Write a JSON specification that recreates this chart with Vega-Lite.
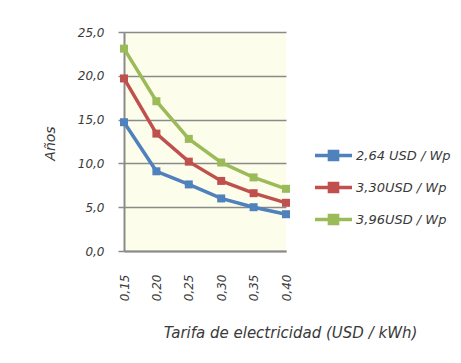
{
  "$schema": "https://vega.github.io/schema/vega-lite/v6.json",
  "autosize": "none",
  "width": 162,
  "height": 219,
  "padding": {"left": 124, "top": 32, "right": 175, "bottom": 112},
  "background": "white",
  "data": {
    "values": [
      {"tarifa": "0,15", "serie": "2,64 USD / Wp", "anos": 14.7},
      {"tarifa": "0,20", "serie": "2,64 USD / Wp", "anos": 9.1},
      {"tarifa": "0,25", "serie": "2,64 USD / Wp", "anos": 7.6},
      {"tarifa": "0,30", "serie": "2,64 USD / Wp", "anos": 6.0},
      {"tarifa": "0,35", "serie": "2,64 USD / Wp", "anos": 5.0},
      {"tarifa": "0,40", "serie": "2,64 USD / Wp", "anos": 4.2},
      {"tarifa": "0,15", "serie": "3,30USD / Wp", "anos": 19.7},
      {"tarifa": "0,20", "serie": "3,30USD / Wp", "anos": 13.4},
      {"tarifa": "0,25", "serie": "3,30USD / Wp", "anos": 10.2},
      {"tarifa": "0,30", "serie": "3,30USD / Wp", "anos": 8.0},
      {"tarifa": "0,35", "serie": "3,30USD / Wp", "anos": 6.6},
      {"tarifa": "0,40", "serie": "3,30USD / Wp", "anos": 5.5},
      {"tarifa": "0,15", "serie": "3,96USD / Wp", "anos": 23.1},
      {"tarifa": "0,20", "serie": "3,96USD / Wp", "anos": 17.1},
      {"tarifa": "0,25", "serie": "3,96USD / Wp", "anos": 12.8},
      {"tarifa": "0,30", "serie": "3,96USD / Wp", "anos": 10.1},
      {"tarifa": "0,35", "serie": "3,96USD / Wp", "anos": 8.4},
      {"tarifa": "0,40", "serie": "3,96USD / Wp", "anos": 7.1}
    ]
  },
  "mark": {
    "type": "line",
    "strokeWidth": 3.5,
    "point": {"shape": "square", "size": 64, "filled": true, "opacity": 1}
  },
  "encoding": {
    "x": {
      "field": "tarifa",
      "type": "ordinal",
      "scale": {"type": "point", "padding": 0},
      "axis": {
        "title": "Tarifa de electricidad (USD / kWh)",
        "labelAngle": -90,
        "labelAlign": "right",
        "labelBaseline": "middle",
        "labelPadding": 23,
        "ticks": false,
        "domainColor": "#8a8a8a",
        "domainWidth": 2,
        "titleX": 166,
        "titlePadding": 25,
        "titleFontSize": 15
      }
    },
    "y": {
      "field": "anos",
      "type": "quantitative",
      "scale": {"domain": [0, 25], "nice": false},
      "axis": {
        "title": "Años",
        "values": [0, 5, 10, 15, 20, 25],
        "labelExpr": "replace(format(datum.value, '.1f'), '.', ',')",
        "grid": true,
        "gridColor": "#8a8a8a",
        "gridWidth": 1.5,
        "tickColor": "#8a8a8a",
        "tickSize": 6,
        "tickWidth": 1.5,
        "labelPadding": 14,
        "domainColor": "#8a8a8a",
        "domainWidth": 2,
        "titleX": -74,
        "titleY": 111,
        "titleAngle": -90,
        "titleBaseline": "middle",
        "titleAlign": "center",
        "titleFontSize": 14
      }
    },
    "color": {
      "field": "serie",
      "type": "nominal",
      "scale": {
        "domain": ["2,64 USD / Wp", "3,30USD / Wp", "3,96USD / Wp"],
        "range": ["#4f81bd", "#c0504d", "#9bbb59"]
      },
      "legend": {
        "title": null,
        "orient": "none",
        "legendX": 189,
        "legendY": 103,
        "padding": 0,
        "symbolType": "M-1,0H1M-0.22,-0.22H0.22V0.22H-0.22Z",
        "symbolSize": 1369,
        "symbolStrokeWidth": 3.5,
        "labelOffset": 2,
        "labelFontSize": 13,
        "rowPadding": 0,
        "encode": {
          "symbols": {
            "update": {
              "fill": {"scale": "color", "field": "value"},
              "stroke": {"scale": "color", "field": "value"},
              "opacity": {"value": 1}
            }
          }
        }
      }
    }
  },
  "config": {
    "view": {"fill": "#fdfdeb", "stroke": null},
    "font": "DejaVu Sans",
    "axis": {
      "labelFont": "DejaVu Sans",
      "labelFontStyle": "italic",
      "labelFontSize": 12,
      "labelColor": "#3a3a3a",
      "titleFont": "DejaVu Sans",
      "titleFontStyle": "italic",
      "titleFontWeight": "normal",
      "titleColor": "#3a3a3a"
    },
    "legend": {
      "labelFont": "DejaVu Sans",
      "labelFontStyle": "italic",
      "labelColor": "#3a3a3a"
    }
  }
}
